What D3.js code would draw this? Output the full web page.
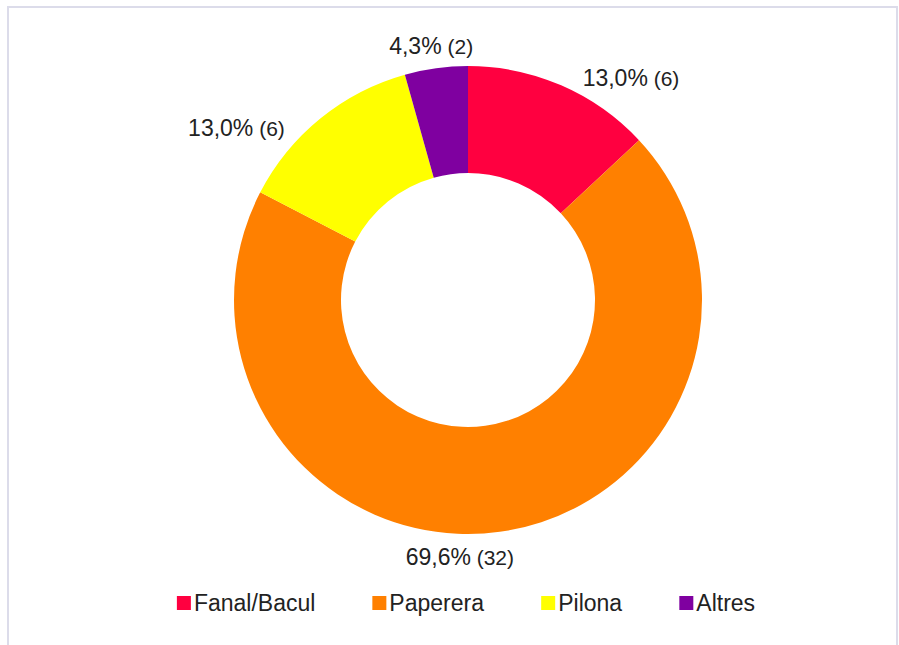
<!DOCTYPE html>
<html lang="ca">
<head>
  <meta charset="utf-8">
  <title>donut</title>
  <style>
  * { margin:0; padding:0; }
  body { background:#fff; }
  svg text { font-family: "Liberation Sans", Arial, sans-serif; fill:#222; }
  </style>
  <script src="https://d3js.org/d3.v7.min.js"></script>
</head>
<body>
<div id="chart"></div>
<script type="text/javascript">
var categories=["Fanal/Bacul","Paperera","Pilona","Altres"];
var counts=[6,32,6,2];
var colours=["#ff0040","#ff8000","#ffff00","#7f00a0"];

var w=899, h=645;
var cx=468, cy=300;
var R=234, r0=127;

// Excel "best fit" pushes the labels around a bit, offsets from the label ring
var labelNudge={"Fanal/Bacul":[61,13],"Paperera":[-43,3],"Pilona":[-70,27],"Altres":[-2,0]};

var svg=d3.select("#chart").append("svg")
  .attr("width",w)
  .attr("height",h);

// frame of the copied chart
svg.append("rect")
  .attr("x",8).attr("y",7)
  .attr("width",889).attr("height",660)
  .style("fill","none")
  .style("stroke","#dcdcea")
  .style("stroke-width",2);

var total=d3.sum(counts);
var rows=categories.map(function(c,i){return {name:c,n:counts[i],col:colours[i]}});

var pie=d3.pie().sort(null).value(function(d){return d.n});
var arcs=pie(rows);
var arc=d3.arc().innerRadius(r0).outerRadius(R);
var labelArc=d3.arc().innerRadius(R+22).outerRadius(R+22);

var g=svg.append("g").attr("transform","translate("+cx+","+cy+")");

g.selectAll(".slice")
  .data(arcs)
  .enter()
  .append("path")
  .attr("class","slice")
  .attr("d",arc)
  .style("fill",function(d){return d.data.col});

function pct(v){
  return (v/total*100).toFixed(1).replace(".",",")+"%";
}

var labels=g.selectAll(".lab")
  .data(arcs)
  .enter()
  .append("text")
  .attr("class","lab")
  .attr("text-anchor","middle")
  .attr("x",function(d){return labelArc.centroid(d)[0]+labelNudge[d.data.name][0]})
  .attr("y",function(d){return labelArc.centroid(d)[1]+labelNudge[d.data.name][1]+8});
labels.append("tspan").style("font-size","23px").text(function(d){return pct(d.data.n)});
labels.append("tspan").style("font-size","21px").text(function(d){return " ("+d.data.n+")"});

// legend, centred under the ring
var leg=svg.append("g");
var xpos=0, sq=14, gap=57;
var items=leg.selectAll(".item")
  .data(rows)
  .enter()
  .append("g")
  .attr("class","item");
items.append("rect")
  .attr("width",sq).attr("height",sq)
  .attr("y",-sq/2)
  .style("fill",function(d){return d.col});
items.append("text")
  .attr("x",sq+3)
  .attr("y",8)
  .style("font-size","23px")
  .text(function(d){return d.name});
items.each(function(){
  var bb=this.getBBox();
  d3.select(this).attr("transform","translate("+xpos+",0)");
  xpos+=bb.width+gap;
});
xpos-=gap;
leg.attr("transform","translate("+(cx-2-xpos/2)+",603)");
</script>
</body>
</html>
